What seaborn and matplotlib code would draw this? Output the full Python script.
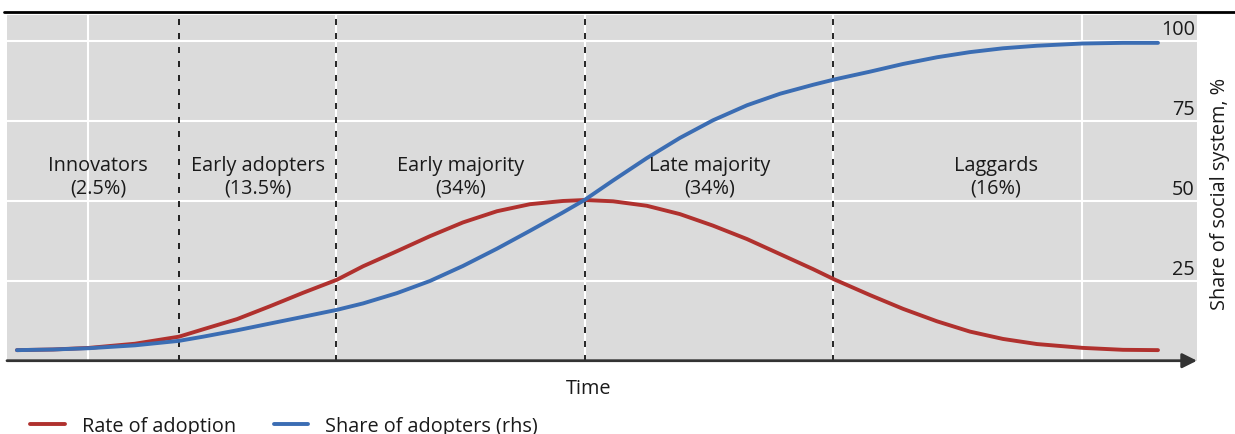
import numpy as np
import pandas as pd
import matplotlib
matplotlib.use('Agg')
import matplotlib.pyplot as plt
from matplotlib.lines import Line2D
import seaborn as sns

# Diffusion of innovations (stylised)
time = [-2.286, -2.141, -1.996, -1.811, -1.634, -1.537, -1.400, -1.268, -1.135, -0.998,
        -0.893, -0.757, -0.624, -0.491, -0.354, -0.221, -0.089, 0.0, 0.113, 0.249,
        0.382, 0.515, 0.652, 0.785, 0.918, 1.006, 1.147, 1.280, 1.417, 1.549,
        1.682, 1.819, 2.004, 2.165, 2.306]
rate_of_adoption = [3.3, 3.5, 4.0, 5.3, 7.5, 9.8, 13.0, 17.0, 21.2, 25.3,
                    29.5, 34.2, 38.9, 43.2, 46.7, 48.9, 49.9, 50.2, 49.8, 48.4,
                    45.8, 42.2, 38.0, 33.3, 28.6, 25.3, 20.5, 16.2, 12.3, 9.1,
                    6.8, 5.2, 4.0, 3.4, 3.3]
share_of_adopters = [3.3, 3.5, 3.9, 4.8, 6.2, 7.5, 9.5, 11.6, 13.7, 15.9,
                     17.9, 21.1, 24.9, 29.6, 35.0, 40.6, 46.3, 50.3, 56.3, 63.3,
                     69.6, 75.1, 79.8, 83.4, 86.2, 87.9, 90.3, 92.7, 94.8, 96.4,
                     97.6, 98.4, 99.1, 99.3, 99.3]

boundaries = [-1.634, -1.0, 0.0, 1.0]
groups = ['Innovators\n(2.5%)', 'Early adopters\n(13.5%)', 'Early majority\n(34%)',
          'Late majority\n(34%)', 'Laggards\n(16%)']
y_ticks = [25, 50, 75, 100]
x_grid = [-2, -1, 0, 1, 2]

RED = '#B0312E'
BLUE = '#3B6DB3'

sns.set_theme(style='white')
plt.rcParams['font.family'] = ['Open Sans', 'DejaVu Sans']
FS = 14.3

fig = plt.figure(figsize=(12.35, 4.35), dpi=100)
ax = fig.add_axes([7 / 1235, 1 - 361.7 / 435, 1190 / 1235, (361.7 - 16) / 435])
ax.set_facecolor('#DBDBDB')

df = pd.DataFrame({'time': time, 'rate': rate_of_adoption, 'share': share_of_adopters})
sns.lineplot(data=df, x='time', y='rate', ax=ax, color=RED, lw=2.8,
             label='Rate of adoption', sort=False, solid_joinstyle='round')
sns.lineplot(data=df, x='time', y='share', ax=ax, color=BLUE, lw=2.8,
             label='Share of adopters (rhs)', sort=False, solid_joinstyle='round')
handles, labels = ax.get_legend_handles_labels()
if ax.get_legend() is not None:
    ax.get_legend().remove()

ax.set_xlim(-2.326, 2.463)
ax.set_ylim(0, 108)
ax.set_xticks(x_grid)
ax.set_yticks(y_ticks)
ax.tick_params(length=0, labelbottom=False, labelleft=False)
ax.grid(True, color='white', lw=1.5)
ax.set_axisbelow(True)
ax.set_xlabel('')
ax.set_ylabel('')
for s in ax.spines.values():
    s.set_visible(False)

# dashed segment boundaries
for b in boundaries:
    ax.axvline(b, color='black', lw=1.2, ls=(0, (3.6, 4.8)), zorder=1.5)

# segment labels, centred in each segment
edges = [time[0]] + boundaries + [time[-1]]
for i, g in enumerate(groups):
    ax.text((edges[i] + edges[i + 1]) / 2, 57.6, g, ha='center', va='center',
            fontsize=FS, color='#1a1a1a', linespacing=1.2)

# right-hand tick labels inside the plot
for v in y_ticks:
    ax.annotate(str(v), xy=(1, v), xycoords=ax.get_yaxis_transform(),
                xytext=(-1.5, 4.5), textcoords='offset points',
                ha='right', va='baseline', fontsize=FS, color='#1a1a1a')

# x axis with arrow
ax.annotate('', xy=(1, 0), xytext=(0, 0), xycoords='axes fraction',
            arrowprops=dict(arrowstyle='-|>', color='#333333', lw=2,
                            mutation_scale=22, shrinkA=0, shrinkB=0), zorder=5)

fig.text(589 / 1235, 1 - 389.5 / 435, 'Time', ha='center', va='center',
         fontsize=FS, color='#1a1a1a')
fig.text(1220 / 1235, 1 - 194 / 435, 'Share of social system, %', rotation=90,
         ha='center', va='center', fontsize=FS, color='#1a1a1a')

# top rule
fig.add_artist(Line2D([4 / 1235, 1], [1 - 13 / 435] * 2, transform=fig.transFigure,
                      color='black', lw=2))

leg = fig.legend(handles, labels, loc='center left', bbox_to_anchor=(30 / 1235, 8 / 435),
                 ncol=2, frameon=False, fontsize=FS, handlelength=1.75,
                 handletextpad=0.85, columnspacing=1.9, borderpad=0, borderaxespad=0)
for t in leg.get_texts():
    t.set_color('#1a1a1a')

fig.savefig('out.png', dpi=100)
